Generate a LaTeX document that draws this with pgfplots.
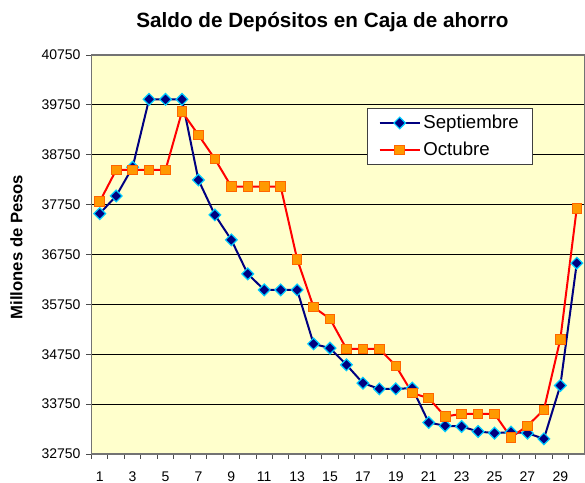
\documentclass[border=0pt]{standalone}
\usepackage{pgfplots}
\pgfplotsset{compat=1.18}
\usepackage{fontspec}
\setmainfont{Liberation Sans}
\definecolor{bgyel}{HTML}{FFFFCC}
\definecolor{navy}{HTML}{000080}
\definecolor{cyanm}{HTML}{00CCFF}
\definecolor{orng}{HTML}{FF9900}
\definecolor{orngd}{HTML}{FF6600}
\begin{document}
\begin{tikzpicture}
\begin{axis}[
  name=ax,
  scale only axis,
  width=370.125pt, height=299.25pt,
  xmin=0.5, xmax=30.5,
  ymin=32750, ymax=40750,
  ytick={32750,33750,...,40750},
  scaled y ticks=false,
  xtick={0.5,1.5,...,30.5},
  xticklabels={},
  extra x ticks={1,3,...,29},
  extra x tick style={major tick length=0pt},
  tick align=outside,
  xtick pos=bottom, ytick pos=left,
  major tick length=3.75pt,
  ymajorgrids,
  major grid style={black, line width=0.6pt},
  axis background/.style={fill=bgyel},
  axis line style={black!55, line width=0.9pt},
  tick style={black!70, line width=0.7pt},
  /pgf/number format/assume math mode=true,
  /pgf/number format/set thousands separator={},
  yticklabel={\pgfmathprintnumber[fixed,precision=0,set thousands separator={}]{\tick}},
  ticklabel style={font=\fontsize{10.5}{12}\selectfont},
  yticklabel style={xshift=-1pt},
  xticklabel style={yshift=-9.5pt},
  legend style={at={(0.558,0.867)}, anchor=north west, draw=black!75, line width=0.75pt,
    font=\fontsize{14}{16}\selectfont, inner xsep=8.5pt, inner ysep=3pt, row sep=4.5pt},
  legend cell align=left,
  legend image code/.code={\draw[mark repeat=2,mark phase=2,#1] plot coordinates {(0pt,0pt) (15pt,0pt) (30pt,0pt)};},
]
\addplot[navy, line width=1.5pt, mark=square*, mark size=3.1pt,
  mark options={rotate=45, fill=navy, draw=cyanm, line width=0.9pt}] coordinates {
(1,37570) (2,37924) (3,38500) (4,39862) (5,39862) (6,39862) (7,38245) (8,37544)
(9,37043) (10,36361) (11,36040) (12,36040) (13,36040) (14,34958) (15,34872)
(16,34538) (17,34170) (18,34056) (19,34056) (20,34070) (21,33381) (22,33315)
(23,33301) (24,33201) (25,33168) (26,33188) (27,33168) (28,33054) (29,34123) (30,36576)
};
\addlegendentry{Septiembre}
\addplot[red, line width=1.5pt, mark=square*, mark size=3.6pt,
  mark options={fill=orng, draw=orngd, line width=0.7pt}] coordinates {
(1,37810) (2,38445) (3,38445) (4,38445) (5,38445) (6,39614) (7,39147) (8,38666)
(9,38111) (10,38111) (11,38111) (12,38111) (13,36656) (14,35694) (15,35460)
(16,34858) (17,34858) (18,34858) (19,34518) (20,33970) (21,33870) (22,33501)
(23,33555) (24,33555) (25,33555) (26,33081) (27,33315) (28,33636) (29,35052) (30,37678)
};
\addlegendentry{Octubre}
\end{axis}
\node[anchor=base, font=\fontsize{15.5}{18}\selectfont\bfseries] at ([xshift=173.25pt, yshift=20.25pt]ax.north west) {Saldo de Depósitos en Caja de ahorro};
\node[rotate=90, anchor=center, font=\fontsize{12.5}{15}\selectfont\bfseries] at ([xshift=-56.25pt, yshift=5.6pt]ax.west) {Millones de Pesos};
\pgfresetboundingbox
\path[use as bounding box] ([xshift=-68.625pt, yshift=-21.75pt]ax.south west) rectangle ([yshift=41.25pt]ax.north east);
\end{tikzpicture}
\end{document}
